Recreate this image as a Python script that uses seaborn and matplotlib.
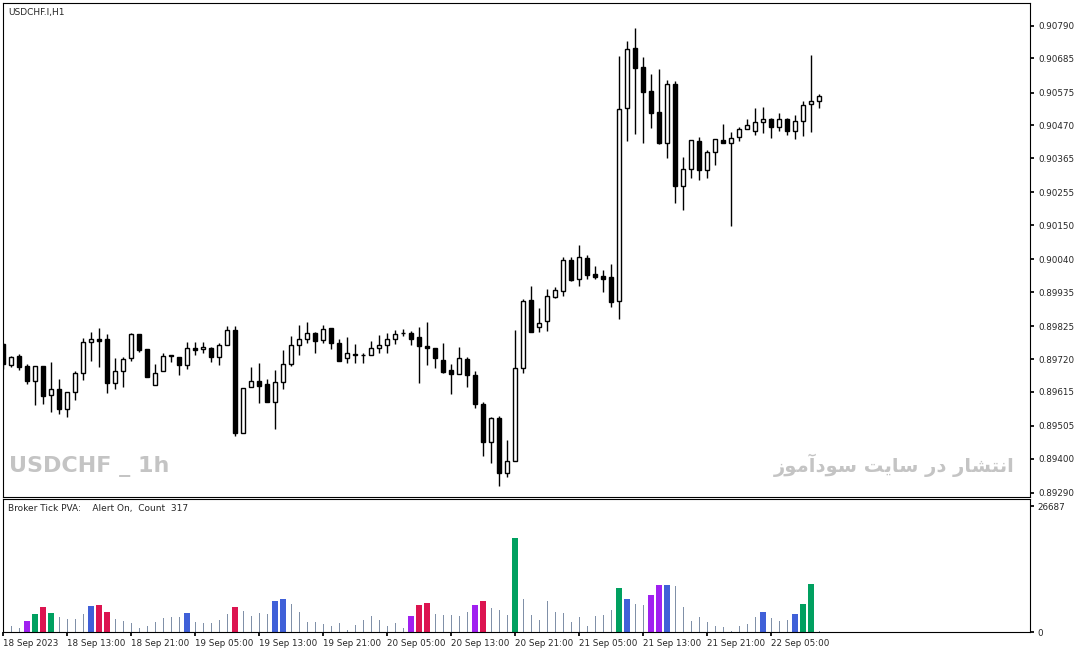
import numpy as np
import pandas as pd
import matplotlib
matplotlib.use("Agg")
import matplotlib.pyplot as plt
import seaborn as sns

# prices in points (x 1e-5)
opens = [89768,89701,89730,89697,89649,89697,89604,89624,89560,89614,89675,89775,89784,89784,89643,89681,89723,89800,89752,89636,
         89681,89733,89726,89701,89755,89752,89755,89726,89765,89813,89482,89630,89649,89640,89582,89646,89704,89765,89784,89803,
         89781,89820,89771,89723,89733,89733,89733,89755,89765,89784,89803,89803,89791,89762,89755,89717,89685,89672,89720,89669,
         89576,89453,89531,89354,89392,89691,89909,89823,89842,89919,89938,90038,89977,90044,89993,89987,89983,89906,90526,90719,
         90658,90581,90513,90414,90603,90276,90330,90420,90327,90385,90423,90414,90433,90459,90452,90481,90491,90465,90491,90452,
         90484,90539,90549]
highs = [89771,89730,89736,89704,89697,89697,89710,89656,89614,89681,89787,89807,89820,89800,89723,89726,89803,89800,89752,89704,
         89739,89733,89726,89775,89775,89775,89758,89771,89826,89826,89627,89694,89707,89656,89685,89749,89794,89829,89839,89807,
         89829,89820,89784,89791,89768,89739,89778,89797,89803,89813,89816,89810,89823,89839,89755,89771,89704,89758,89726,89681,
         89582,89534,89537,89460,89813,89913,89954,89884,89945,89951,90048,90048,90086,90054,90019,90006,90025,90693,90741,90783,
         90690,90635,90651,90616,90613,90369,90423,90433,90391,90427,90475,90449,90465,90491,90526,90529,90494,90510,90494,90504,
         90549,90696,90571]
lows = [89688,89694,89685,89640,89572,89576,89550,89543,89534,89588,89652,89714,89694,89611,89624,89630,89714,89742,89662,89636,
        89681,89710,89669,89688,89733,89739,89710,89701,89765,89473,89482,89630,89579,89582,89495,89624,89697,89733,89771,89739,
        89771,89752,89714,89707,89707,89707,89733,89739,89739,89768,89794,89765,89643,89701,89691,89675,89608,89672,89630,89563,
        89408,89386,89312,89341,89392,89675,89807,89807,89810,89916,89922,89971,89954,89977,89977,89935,89887,89848,90420,90443,
        90414,90462,90411,90366,90221,90198,90301,90295,90301,90343,90414,90147,90420,90459,90439,90446,90430,90452,90439,90427,
        90436,90449,90526]
closes = [89704,89726,89694,89649,89697,89601,89624,89560,89614,89675,89775,89784,89778,89643,89681,89720,89800,89749,89662,89675,
          89730,89730,89701,89755,89749,89758,89726,89765,89813,89482,89627,89649,89633,89582,89646,89704,89765,89784,89803,89778,
          89816,89771,89714,89739,89735,89733,89755,89765,89784,89800,89803,89784,89762,89755,89723,89678,89672,89723,89669,89576,
          89453,89531,89354,89392,89691,89906,89807,89836,89922,89942,90038,89974,90048,89990,89983,89977,89903,90523,90716,90655,
          90578,90510,90414,90603,90276,90330,90423,90327,90385,90427,90414,90430,90459,90472,90481,90491,90465,90491,90452,90484,
          90536,90549,90565]

volumes = [1498,1284,856,2354,3852,5350,4066,3210,2782,2782,3852,5564,5778,4280,2782,2354,1926,856,1284,2140,
           2996,3210,3210,4066,2140,1926,1926,2568,3852,5350,4494,3424,4066,3852,6634,7062,5992,4280,2140,2140,
           1712,1284,1926,428,1498,2568,3424,2568,1284,1926,856,3424,5778,6206,3852,3638,3638,3424,4280,5778,
           6634,5136,4708,3638,19902,7062,3638,2568,6634,4280,4066,2140,3210,1284,3424,3638,4708,9416,7062,5992,
           5778,7918,10058,10058,9844,5350,2354,3210,2140,1284,1070,214,1284,1712,3210,4280,2996,2354,2568,3852,
           5992,10272,214]
vol_kind = ['n']*103
for i in [3, 51, 59, 81, 82]: vol_kind[i] = 'p'
for i in [4, 6, 64, 77, 100, 101]: vol_kind[i] = 'g'
for i in [5, 12, 13, 29, 52, 53, 60]: vol_kind[i] = 'r'
for i in [11, 23, 34, 35, 78, 83, 95, 99]: vol_kind[i] = 'b'

price_ticks = [0.90790,0.90685,0.90575,0.90470,0.90365,0.90255,0.90150,0.90040,0.89935,0.89825,0.89720,0.89615,0.89505,0.89400,0.89290]
time_labels = ["18 Sep 2023","18 Sep 13:00","18 Sep 21:00","19 Sep 05:00","19 Sep 13:00","19 Sep 21:00","20 Sep 05:00",
               "20 Sep 13:00","20 Sep 21:00","21 Sep 05:00","21 Sep 13:00","21 Sep 21:00","22 Sep 05:00"]

df = pd.DataFrame({"o": opens, "h": highs, "l": lows, "c": closes, "v": volumes, "k": vol_kind})
df[["o", "h", "l", "c"]] /= 1e5
df["i"] = np.arange(len(df))

sns.set_theme(style="white")
plt.rcParams['font.family'] = ['DejaVu Sans']

W, H = 1076, 653
fig = plt.figure(figsize=(W/100, H/100), dpi=100)
ax = fig.add_axes([3/W, 1-497/H, 1027/W, 494/H])
axv = fig.add_axes([3/W, 1-632/H, 1027/W, 133/H])

# candles
ax.vlines(df.i, df.l, df.h, color="black", lw=1)
up = df.c >= df.o
body_h = (df.c - df.o).abs().clip(lower=0.000005)
body_b = np.minimum(df.o, df.c)
ax.bar(df.i[up], body_h[up], bottom=body_b[up], width=0.55, facecolor="white", edgecolor="black", lw=1, zorder=3)
ax.bar(df.i[~up], body_h[~up], bottom=body_b[~up], width=0.55, facecolor="black", edgecolor="black", lw=1, zorder=3)

xmax = 128.4
ax.set_xlim(0, xmax)
ax.set_ylim(0.89277, 0.90863)
ax.yaxis.tick_right()
ax.set_yticks(price_ticks)
ax.set_yticklabels([f"{t:.5f}" for t in price_ticks])
ax.set_xticks([])
ax.tick_params(axis="y", labelsize=6.3, length=3, pad=3, right=True, direction="out", color="black")

ax.text(0.005, 0.99, "USDCHF.I,H1", transform=ax.transAxes, fontsize=6.5, va="top", ha="left")
ax.text(0.006, 0.04, "USDCHF _ 1h", transform=ax.transAxes, fontsize=16, fontweight="bold",
        color="#c4c4c4", va="bottom", ha="left")
fa = "\uFE8D\uFEE7\uFE98\uFEB8\uFE8E\uFEAD \uFEA9\uFEAD \uFEB3\uFE8E\uFBFE\uFE96 \uFEB3\uFEEE\uFEA9\uFE81\uFEE3\uFEEE\uFEAF"
ax.text(0.985, 0.04, fa[::-1], transform=ax.transAxes, fontsize=14, fontweight="bold", color="#c4c4c4",
        va="bottom", ha="right")

# volume: colored bars through seaborn, plain ticks as thin lines
pal = {"p": "#a020f0", "g": "#00a060", "r": "#dc1450", "b": "#4060d8"}
wide = df[df.k != "n"]
thin = df[df.k == "n"]
sns.barplot(data=wide, x="i", y="v", hue="k", palette=pal, native_scale=True, width=0.75,
            dodge=False, legend=False, ax=axv, linewidth=0, saturation=1)
axv.vlines(thin.i, 0, thin.v, color="#8090a8", lw=0.72, antialiased=False)
axv.set_xlim(0, xmax)
axv.set_ylim(0, 28170)
axv.yaxis.tick_right()
axv.set_yticks([0, 26687])
axv.set_yticklabels(["0", "26687"])
axv.set_xticks(np.arange(0, len(time_labels)*8, 8))
axv.set_xticklabels(time_labels, ha="left")
axv.tick_params(axis="both", labelsize=6.3, length=3, pad=2, direction="out", color="black", bottom=True, right=True)
axv.set_xlabel("")
axv.set_ylabel("")
axv.text(0.005, 0.96, "Broker Tick PVA:    Alert On,  Count  317", transform=axv.transAxes,
         fontsize=6.5, va="top", ha="left")

for a in (ax, axv):
    for s in a.spines.values():
        s.set_color("black")
        s.set_linewidth(0.8)

fig.savefig("out.png", dpi=100)
